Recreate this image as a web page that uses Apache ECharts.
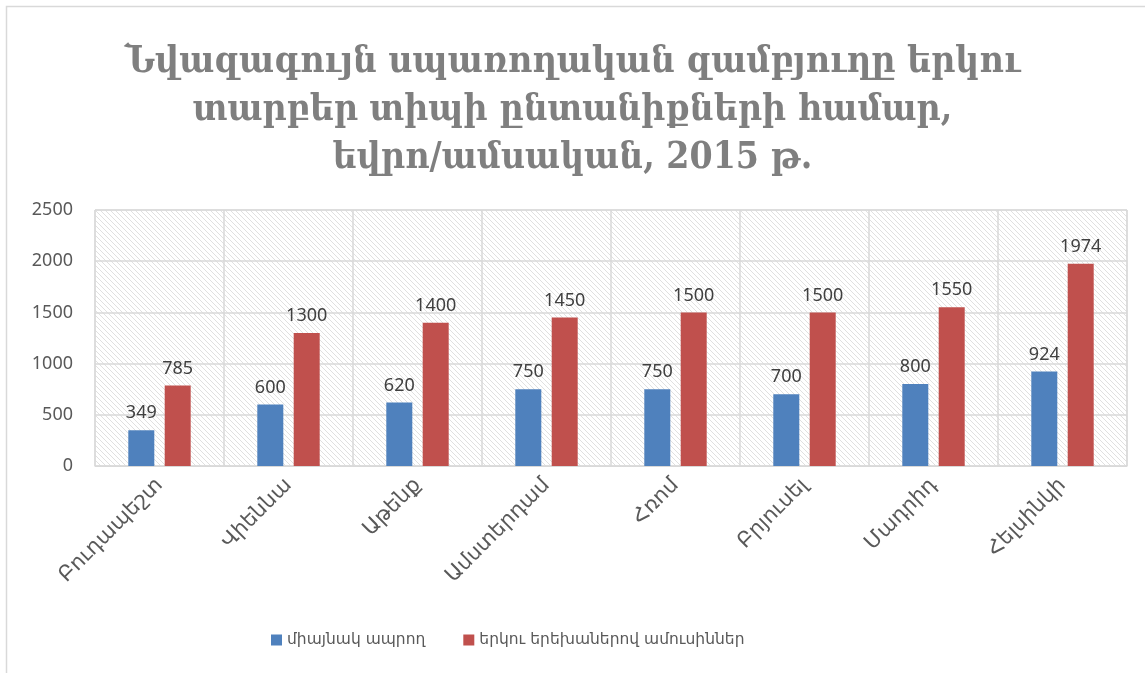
<!DOCTYPE html>
<html>
<head>
<meta charset="utf-8">
<script src="https://cdn.jsdelivr.net/npm/echarts@6/dist/echarts.min.js"></script>
<style>
  html, body { margin: 0; padding: 0; background: #fff; }
  #main { width: 1145px; height: 673px; }
</style>
</head>
<body>
<div id="main"></div>
<script>
// data
var cities = ['Բուդապեշտ', 'Վիեննա', 'Աթենք', 'Ամստերդամ', 'Հռոմ', 'Բրյուսել', 'Մադրիդ', 'Հելսինկի'];
var singleLiving = [349, 600, 620, 750, 750, 700, 800, 924];
var coupleTwoKids = [785, 1300, 1400, 1450, 1500, 1500, 1550, 1974];
var seriesNames = ['միայնակ ապրող', 'երկու երեխաներով ամուսիններ'];
var yTicks = [0, 500, 1000, 1500, 2000, 2500];

// hatch pattern for plot background
var pat = document.createElement('canvas');
pat.width = 5; pat.height = 5;
var ctx = pat.getContext('2d');
ctx.fillStyle = '#ffffff';
ctx.fillRect(0, 0, 5, 5);
ctx.strokeStyle = '#e0e0e0';
ctx.lineWidth = 1;
ctx.beginPath();
ctx.moveTo(-1, -1); ctx.lineTo(6, 6);
ctx.moveTo(-6, -1); ctx.lineTo(1, 6);
ctx.moveTo(4, -1); ctx.lineTo(11, 6);
ctx.stroke();

var chart = echarts.init(document.getElementById('main'));
var lbl = { show: true, position: 'top', distance: 8, color: '#404040', fontSize: 18, fontFamily: 'Noto Sans, DejaVu Sans' };

var option = {
  backgroundColor: '#fff',
  title: {
    text: 'Նվազագույն սպառողական զամբյուղը երկու\nտարբեր տիպի ընտանիքների համար,\nեվրո/ամսական, 2015 թ.',
    left: 'center',
    top: 33,
    textStyle: {
      fontFamily: 'DejaVu Serif Condensed, DejaVu Serif',
      fontWeight: 'bold',
      fontSize: 37,
      lineHeight: 48,
      color: '#7f7f7f'
    }
  },
  graphic: [{
    type: 'rect',
    shape: { x: 6.5, y: 6.5, width: 1200, height: 700 },
    style: { fill: 'none', stroke: '#d9d9d9', lineWidth: 1.5 },
    silent: true
  }],
  color: ['#4f81bd', '#c0504d'],
  legend: {
    data: seriesNames,
    bottom: 20,
    left: 266,
    itemWidth: 11,
    itemHeight: 11,
    itemGap: 38,
    icon: 'rect',
    textStyle: { fontSize: 15.5, color: '#595959', fontFamily: 'DejaVu Sans' }
  },
  grid: {
    left: 95,
    right: 18,
    top: 210,
    bottom: 207,
    show: true,
    backgroundColor: { image: pat, repeat: 'repeat' },
    borderColor: '#d9d9d9',
    borderWidth: 1
  },
  xAxis: {
    type: 'category',
    data: cities,
    axisLine: { show: true, lineStyle: { color: '#d9d9d9' } },
    axisTick: { show: false },
    splitLine: { show: true, interval: 0, lineStyle: { color: '#d9d9d9', width: 1.5 } },
    axisLabel: {
      interval: 0,
      rotate: 45,
      margin: 16,
      fontSize: 21,
      color: '#595959',
      fontFamily: 'DejaVu Sans'
    }
  },
  yAxis: {
    type: 'value',
    min: yTicks[0],
    max: yTicks[yTicks.length - 1],
    interval: 500,
    axisLine: { show: false },
    axisTick: { show: false },
    splitLine: { lineStyle: { color: '#d9d9d9', width: 1.5 } },
    axisLabel: {
      fontSize: 18, color: '#595959', margin: 22, fontFamily: 'Noto Sans, DejaVu Sans',
      formatter: function (v) { return String(v); }
    }
  },
  series: [{
    name: seriesNames[0],
    type: 'bar',
    data: singleLiving,
    barWidth: 26,
    barGap: '40%',
    label: lbl
  }, {
    name: seriesNames[1],
    type: 'bar',
    data: coupleTwoKids,
    barWidth: 26,
    barGap: '40%',
    label: lbl
  }]
};
chart.setOption(option);
</script>
</body>
</html>
